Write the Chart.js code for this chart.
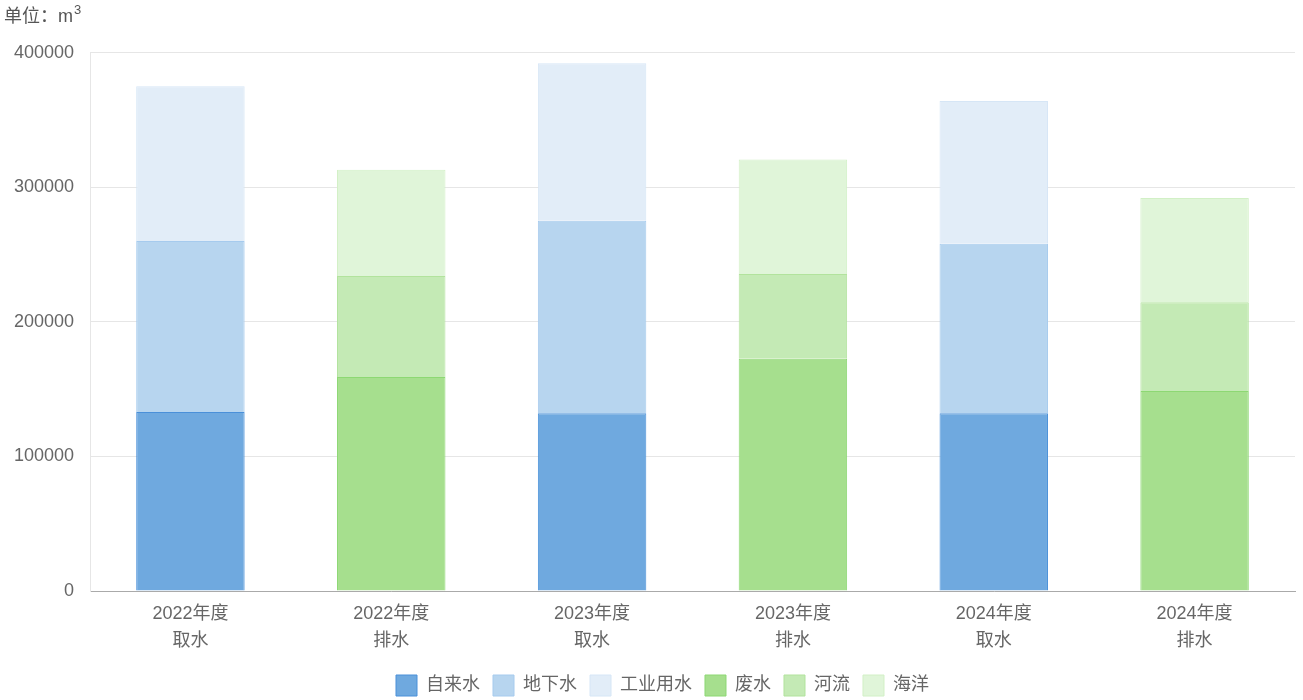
<!DOCTYPE html>
<html>
<head>
<meta charset="utf-8">
<script src="https://cdn.jsdelivr.net/npm/chart.js@4/dist/chart.umd.min.js"></script>
<style>
html,body{margin:0;padding:0;background:#fff;}
#wrap{width:1303px;height:700px;position:relative;}
</style>
</head>
<body>
<div id="wrap"><canvas id="c" width="1303" height="700"></canvas></div>
<script>
const categories = [["2022年度","取水"],["2022年度","排水"],["2023年度","取水"],["2023年度","排水"],["2024年度","取水"],["2024年度","排水"]];
const tapWater    = [133000, null, 132000, null, 132000, null];
const groundWater = [127000, null, 143000, null, 126000, null];
const industrialWater = [115000, null, 117000, null, 106000, null];
const wasteWater  = [null, 159000, null, 172500, null, 148500];
const river       = [null, 75000, null, 63000, null, 66000];
const ocean       = [null, 79000, null, 85000, null, 77500];
const seriesNames = ["自来水","地下水","工业用水","废水","河流","海洋"];
const yTicks = [0, 100000, 200000, 300000, 400000];
const unitLabel = "单位：m";
const unitSup = "3";

const FONT = '"Liberation Sans", Arial, "Noto Sans CJK SC", sans-serif';
const styles = [
  {bg:'#6FA9DF', bd:'#4A90D9'},
  {bg:'#B7D5EF', bd:'#A6CBEE'},
  {bg:'#E2EDF8', bd:'#D6E6F6'},
  {bg:'#A6DF8E', bd:'#8DD873'},
  {bg:'#C4EAB5', bd:'#B2E39D'},
  {bg:'#E0F5D9', bd:'#D2F0C6'}
];
const seriesData = [tapWater, groundWater, industrialWater, wasteWater, river, ocean];

const legendShift = {
  id: 'legendShift',
  afterLayout(chart) {
    const lg = chart.legend;
    if (!lg) return;
    lg.left += 13; lg.right += 13;
    lg.top -= 3; lg.bottom -= 3;
    if (lg.adjustHitBoxes) lg.adjustHitBoxes();
  }
};

const supPlugin = {
  id: 'supPlugin',
  afterDraw(chart) {
    const t = chart.titleBlock;
    if (!t) return;
    const ctx = chart.ctx;
    ctx.save();
    ctx.font = '18px ' + FONT;
    const w = ctx.measureText(unitLabel).width;
    const cy = t.top + 6 + 18 * 1.2 / 2;
    ctx.font = '13px ' + FONT;
    ctx.fillStyle = '#555';
    ctx.textBaseline = 'middle';
    ctx.textAlign = 'left';
    ctx.fillText(unitSup, t.left + w + 1, cy - 6);
    ctx.restore();
  }
};

new Chart(document.getElementById('c'), {
  type: 'bar',
  data: {
    labels: categories,
    datasets: seriesData.map((d, i) => ({
      label: seriesNames[i],
      data: d,
      backgroundColor: styles[i].bg,
      borderColor: styles[i].bd,
      borderWidth: 1,
      stack: 's',
      categoryPercentage: 1,
      barPercentage: 0.54
    }))
  },
  plugins: [legendShift, supPlugin],
  options: {
    responsive: false,
    animation: false,
    layout: {padding: {left: 4, right: 8, top: 0, bottom: -9}},
    plugins: {
      tooltip: {enabled: false},
      title: {
        display: true,
        text: unitLabel,
        align: 'start',
        color: '#555',
        font: {family: FONT, size: 18, weight: 'normal'},
        padding: {top: 6, bottom: 25}
      },
      legend: {
        position: 'bottom',
        labels: {
          color: '#666',
          font: {family: FONT, size: 18},
          boxWidth: 21,
          boxHeight: 21,
          padding: 13
        }
      }
    },
    scales: {
      x: {
        stacked: true,
        grid: {display: false, drawTicks: false},
        border: {display: true, color: '#aaaaaa', width: 1},
        ticks: {color: '#666', font: {family: FONT, size: 18, lineHeight: 1.5}, padding: 10}
      },
      y: {
        stacked: true,
        min: 0, max: 400000,
        afterBuildTicks: (axis) => { axis.ticks = yTicks.map(v => ({value: v})); },
        afterFit: (axis) => { axis.width = 86; },
        grid: {color: '#e6e6e6', drawTicks: false},
        border: {display: true, color: '#e6e6e6'},
        ticks: {color: '#666', font: {family: FONT, size: 18}, padding: 16, callback: (v) => String(v)}
      }
    }
  }
});
</script>
</body>
</html>
